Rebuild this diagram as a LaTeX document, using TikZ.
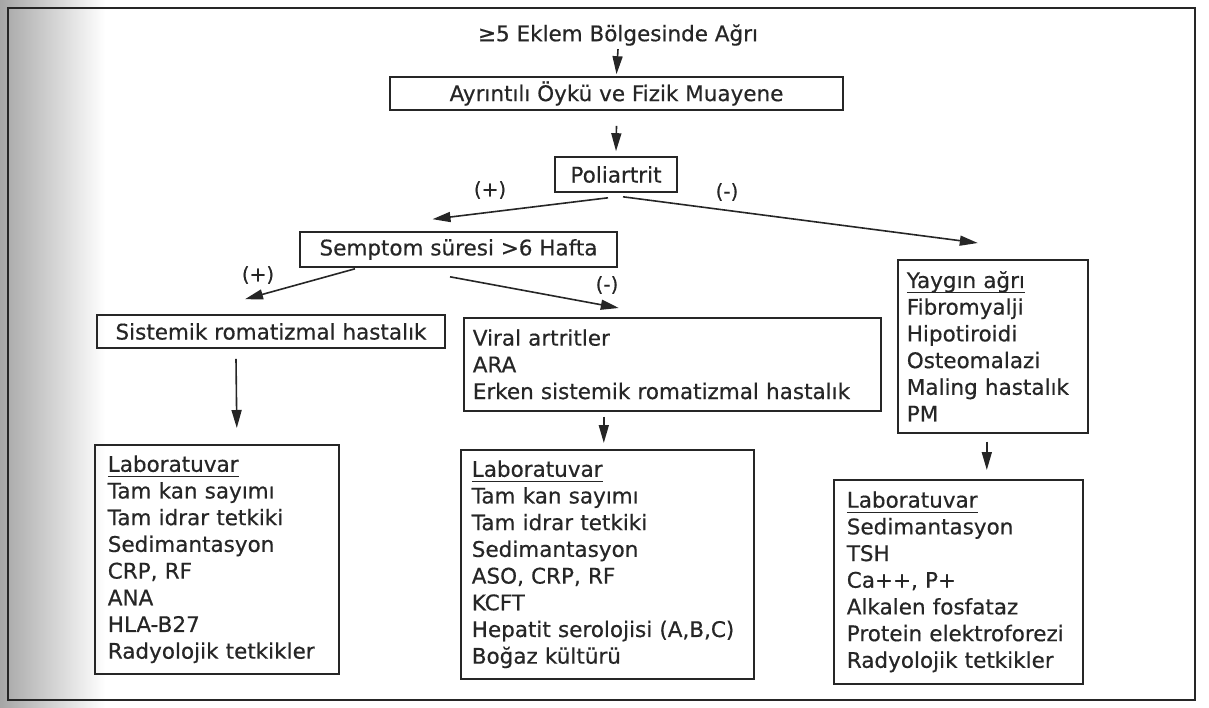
\documentclass[tikz,border=0pt]{standalone}
\usepackage{fontspec}
\setmainfont{DejaVu Sans}
\newfontfamily\heavy{DejaVu Sans}[FakeBold=0.5]
\usetikzlibrary{arrows.meta,calc}
\definecolor{ink}{HTML}{262626}
\newcommand\headul[1]{\underline{\raisebox{0pt}[\height][3pt]{#1}}}
\begin{document}
\begin{tikzpicture}[x=1pt,y=-1pt,
  box/.style={draw=ink, line width=1.6pt, inner sep=0pt, text=ink,
    font=\heavy\fontsize{21.5}{26.7}\selectfont},
  listbox/.style={box, anchor=north west, align=left},
  txt/.style={text=ink, font=\heavy\fontsize{21.5}{26.7}\selectfont},
  lbl/.style={text=ink, font=\heavy\fontsize{20}{22}\selectfont},
  arr/.style={draw=ink, line width=1.6pt, -{Triangle[length=18pt,width=10pt]}},
  frame/.style={draw=ink, line width=2.2pt}]
\useasboundingbox (0,0) rectangle (1209,708);
\shade[left color=black!35, right color=white] (0,0) rectangle (105,708);
\draw[frame] (8,8) rectangle (1195,700);

% nodes
\node[txt] (title) at (618,35) {≥5 Eklem Bölgesinde Ağrı};
\node[box, minimum width=453pt, minimum height=33pt] (ayr) at (616.5,93.5) {Ayrıntılı Öykü ve Fizik Muayene};
\node[box, minimum width=122pt, minimum height=35pt] (poli) at (616,174.5) {Poliartrit};
\node[box, minimum width=317pt, minimum height=35pt] (semp) at (458.5,249.5) {Semptom süresi >6 Hafta};
\node[box, minimum width=348pt, minimum height=33pt] (sist) at (271,331.5) {Sistemik romatizmal hastalık};
\node[listbox, minimum width=417pt, minimum height=93pt, text width=399pt] (viral) at (463,317)
  {Viral artritler\\ARA\\Erken sistemik romatizmal hastalık};
\node[listbox, minimum width=190pt, minimum height=173pt, text width=172pt] (yay) at (897,259)
  {\headul{Yaygın ağrı}\\Fibromyalji\\Hipotiroidi\\Osteomalazi\\Maling hastalık\\PM};
\node[listbox, minimum width=244pt, minimum height=229pt, text width=218pt] (lab1) at (94,444)
  {\headul{Laboratuvar}\\Tam kan sayımı\\Tam idrar tetkiki\\Sedimantasyon\\CRP, RF\\ANA\\HLA-B27\\Radyolojik tetkikler};
\node[listbox, minimum width=293pt, minimum height=229pt, text width=271pt] (lab2) at (460,449)
  {\headul{Laboratuvar}\\Tam kan sayımı\\Tam idrar tetkiki\\Sedimantasyon\\ASO, CRP, RF\\KCFT\\Hepatit serolojisi (A,B,C)\\Boğaz kültürü};
\node[listbox, minimum width=249pt, minimum height=204pt, text width=223pt] (lab3) at (833,479)
  {\headul{Laboratuvar}\\Sedimantasyon\\TSH\\Ca++, P+\\Alkalen fosfataz\\Protein elektroforezi\\Radyolojik tetkikler};

% labels
\node[lbl] (lp1) at (490,190) {(+)};
\node[lbl] (lm1) at (727,192) {(-)};
\node[lbl] (lp2) at (258,275) {(+)};
\node[lbl] (lm2) at (607,285) {(-)};

% connectors
\draw[arr] (title.south) -- ($(ayr.north)+(0,-2)$);
\draw[arr] ($(ayr.south)+(0,15)$) -- ($(poli.north)+(0,-5)$);
\draw[arr] ($(poli.south)+(-8,5)$) -- ($(semp.north)+(-26,-12)$);
\draw[arr] ($(poli.south)+(7,4)$) -- ($(yay.north)+(-15,-16)$);
\draw[arr] ($(semp.south)+(-103.5,1)$) -- ($(sist.north)+(-26,-15)$);
\draw[arr] ($(semp.south)+(-8.5,9)$) -- ($(viral.north)+(-53.5,-9)$);
\draw[arr] ($(sist.south)+(-35,10)$) -- ($(lab1.north)+(20,-16)$);
\draw[arr] ($(viral.south)+(-68.5,5)$) -- ($(lab2.north)+(-3.5,-6)$);
\draw[arr] ($(yay.south)+(-6,8)$) -- ($(lab3.north)+(28.5,-9)$);
\end{tikzpicture}
\end{document}
